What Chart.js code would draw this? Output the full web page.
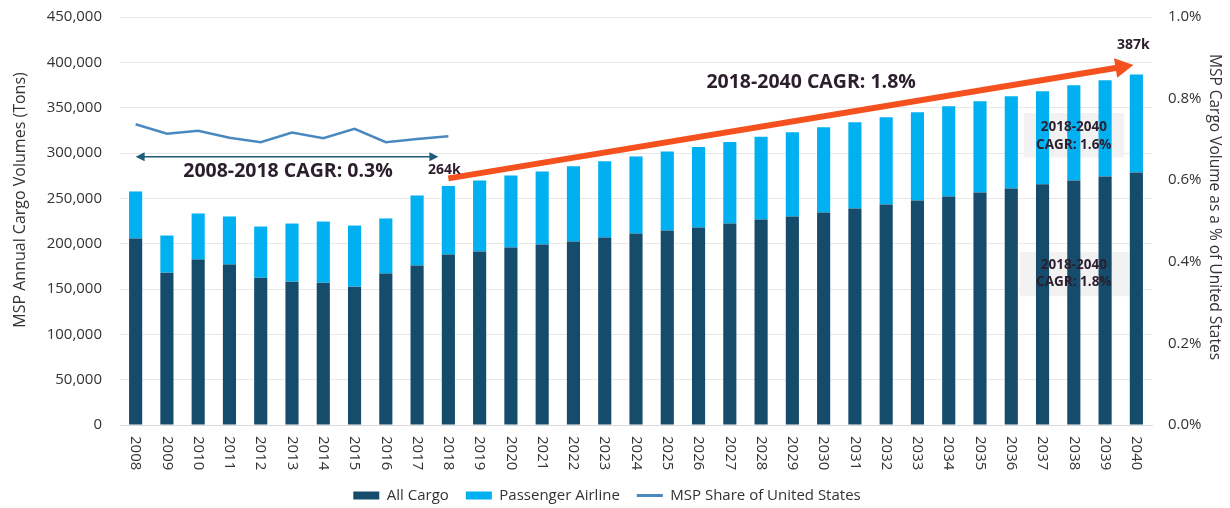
<!DOCTYPE html>
<html><head><meta charset="utf-8">
<script src="https://cdn.jsdelivr.net/npm/chart.js@4.4.1/dist/chart.umd.min.js"></script>
<style>html,body{margin:0;padding:0;background:#fff}#wrap{width:1230px;height:508px;position:relative}</style>
</head><body><div id="wrap"><canvas id="c" width="1230" height="508"></canvas></div>
<script>
const years = ['2008','2009','2010','2011','2012','2013','2014','2015','2016','2017','2018','2019','2020','2021','2022','2023','2024','2025','2026','2027','2028','2029','2030','2031','2032','2033','2034','2035','2036','2037','2038','2039','2040'];
const allCargo = [205700,168000,182400,176900,162500,158100,157000,152600,167000,175800,188000,191300,195700,199000,202300,206800,211200,214500,217800,222200,226700,230000,234400,238800,243200,247700,252100,256500,260900,265400,269800,274200,278600];
const passengerAirline = [51900,41000,50900,53100,56400,64100,67400,67400,60800,77400,75500,78500,79600,80700,83000,84000,85000,87100,88700,89800,91100,93000,94000,95100,96200,97300,99500,100600,101800,102800,105000,106100,107900];
const mspShare = [0.737,0.714,0.721,0.704,0.693,0.717,0.703,0.726,0.693,0.701,0.708,null,null,null,null,null,null,null,null,null,null,null,null,null,null,null,null,null,null,null,null,null,null];
const leftTitle = 'MSP Annual Cargo Volumes (Tons)';
const rightTitle = 'MSP Cargo Volume as a % of United States';
const histNote = '2008-2018 CAGR: 0.3%';
const fcstNote = '2018-2040 CAGR: 1.8%';
const startLabel = '264k';
const endLabel = '387k';
const paxNote = ['2018-2040', 'CAGR: 1.6%'];
const cargoNote = ['2018-2040', 'CAGR: 1.8%'];

const FONT = "'Open Sans', 'Noto Sans', sans-serif";
const TXT = '#2c1e2d';

function arrowHead(ctx, x, y, ang, len, half) {
  ctx.beginPath();
  ctx.moveTo(x, y);
  ctx.lineTo(x - len * Math.cos(ang) + half * Math.sin(ang), y - len * Math.sin(ang) - half * Math.cos(ang));
  ctx.lineTo(x - len * Math.cos(ang) - half * Math.sin(ang), y - len * Math.sin(ang) + half * Math.cos(ang));
  ctx.closePath();
  ctx.fill();
}

const deco = {
  id: 'deco',
  beforeDatasetsDraw(chart) {
    const {ctx, scales: {x, y}} = chart;
    ctx.save();
    ctx.fillStyle = '#f2f2f2';
    const c = x.getPixelForValue(30);
    let t = y.getPixelForValue(344000), b = y.getPixelForValue(295000);
    ctx.fillRect(c - 50, t, 100, b - t);
    t = y.getPixelForValue(191000); b = y.getPixelForValue(142000);
    ctx.fillRect(c - 54, t, 109, b - t);
    ctx.restore();
  },
  afterDatasetsDraw(chart) {
    const {ctx, scales: {x, y}} = chart;
    ctx.save();
    const x1 = x.getPixelForValue(0), x2 = x.getPixelForValue(10) - 10;
    const ay = y.getPixelForValue(296000);
    ctx.strokeStyle = '#1f5b7b'; ctx.fillStyle = '#1f5b7b'; ctx.lineWidth = 1.5;
    ctx.beginPath(); ctx.moveTo(x1 + 6, ay); ctx.lineTo(x2 - 6, ay); ctx.stroke();
    arrowHead(ctx, x1, ay, Math.PI, 9, 4.5);
    arrowHead(ctx, x2, ay, 0, 9, 4.5);
    const sx = x.getPixelForValue(10), sy = y.getPixelForValue(272000);
    const ex = x.getPixelForValue(32) - 3, ey = y.getPixelForValue(397000);
    const ang = Math.atan2(ey - sy, ex - sx);
    ctx.strokeStyle = '#f4511e'; ctx.fillStyle = '#f4511e'; ctx.lineWidth = 6;
    ctx.beginPath(); ctx.moveTo(sx, sy);
    ctx.lineTo(ex - 15 * Math.cos(ang), ey - 15 * Math.sin(ang)); ctx.stroke();
    arrowHead(ctx, ex, ey, ang, 18, 10);
    ctx.fillStyle = TXT; ctx.textAlign = 'center'; ctx.textBaseline = 'middle';
    ctx.font = "bold 19.5px " + FONT;
    ctx.fillText(histNote, (x1 + x2) / 2 + 1, ay + 15);
    ctx.fillText(fcstNote, x.getPixelForValue(21.6), y.getPixelForValue(378000));
    ctx.font = "bold 14px " + FONT;
    ctx.fillText(startLabel, sx - 4, ay + 13);
    ctx.fillText(endLabel, x.getPixelForValue(32) - 3, y.getPixelForValue(419000));
    ctx.font = "bold 13.5px " + FONT;
    const c = x.getPixelForValue(30);
    ctx.fillText(paxNote[0], c, y.getPixelForValue(328000));
    ctx.fillText(paxNote[1], c, y.getPixelForValue(309000));
    ctx.fillText(cargoNote[0], c, y.getPixelForValue(176000));
    ctx.fillText(cargoNote[1], c, y.getPixelForValue(157000));
    ctx.restore();
  },
  afterDraw(chart) {
    const {ctx, scales: {x}, chartArea} = chart;
    ctx.save();
    ctx.fillStyle = '#333';
    ctx.font = "15px " + FONT;
    ctx.textAlign = 'left'; ctx.textBaseline = 'middle';
    years.forEach((lab, i) => {
      ctx.save();
      ctx.translate(x.getPixelForValue(i), chartArea.bottom + 11);
      ctx.rotate(Math.PI / 2);
      ctx.fillText(lab, 0, 0);
      ctx.restore();
    });
    ctx.font = "16px " + FONT;
    ctx.textAlign = 'center';
    ctx.save(); ctx.translate(20, 200); ctx.rotate(-Math.PI / 2); ctx.fillText(leftTitle, 0, 0); ctx.restore();
    ctx.font = "15.5px " + FONT;
    ctx.save(); ctx.translate(1214, 207); ctx.rotate(Math.PI / 2); ctx.fillText(rightTitle, 0, 0); ctx.restore();
    ctx.restore();
  }
};

new Chart(document.getElementById('c'), {
  data: {
    labels: years,
    datasets: [
      {type: 'bar', label: 'All Cargo', data: allCargo, backgroundColor: '#154b6b', stack: 's', categoryPercentage: 0.84, barPercentage: 0.5},
      {type: 'bar', label: 'Passenger Airline', data: passengerAirline, backgroundColor: '#00b0f0', stack: 's', categoryPercentage: 0.84, barPercentage: 0.5},
      {type: 'line', label: 'MSP Share of United States', data: mspShare, yAxisID: 'y1', borderColor: '#4a89c0', backgroundColor: '#4a89c0', borderWidth: 2.5, pointRadius: 0, tension: 0, spanGaps: false}
    ]
  },
  options: {
    responsive: false,
    animation: false,
    layout: {padding: {top: 17, left: 0, right: 16, bottom: -5}},
    plugins: {
      tooltip: {enabled: false},
      legend: {
        position: 'bottom',
        labels: {
          usePointStyle: true, pointStyleWidth: 26, boxHeight: 8, padding: 17,
          color: '#333', font: {size: 15, family: FONT},
          generateLabels(chart) {
            const items = Chart.defaults.plugins.legend.labels.generateLabels(chart);
            items.forEach(it => {
              const ds = chart.data.datasets[it.datasetIndex];
              if (ds.type === 'line') { it.pointStyle = 'line'; it.lineWidth = 3; it.strokeStyle = ds.borderColor; }
              else { it.pointStyle = 'rect'; it.lineWidth = 0; it.fillStyle = ds.backgroundColor; }
            });
            return items;
          }
        }
      }
    },
    scales: {
      x: {stacked: true, grid: {display: false}, border: {display: true, color: '#d9d9d9'}, ticks: {display: false}, afterFit(s) { s.height = 46; }},
      y: {stacked: true, min: 0, max: 450000,
        ticks: {stepSize: 50000, callback: v => v.toLocaleString('en-US'), color: '#333', font: {size: 15, family: FONT}, padding: 18},
        grid: {color: '#e8e8e8', drawTicks: false}, border: {display: false},
        afterFit(s) { s.width = 120; s.paddingTop = 8; s.paddingBottom = 8; }},
      y1: {position: 'right', min: 0, max: 1,
        ticks: {stepSize: 0.2, callback: v => v.toFixed(1) + '%', color: '#333', font: {size: 15, family: FONT}, padding: 16},
        grid: {drawOnChartArea: false, drawTicks: false}, border: {display: false},
        afterFit(s) { s.width = 62; s.paddingTop = 8; s.paddingBottom = 8; }}
    }
  },
  plugins: [deco]
});
</script></body></html>
